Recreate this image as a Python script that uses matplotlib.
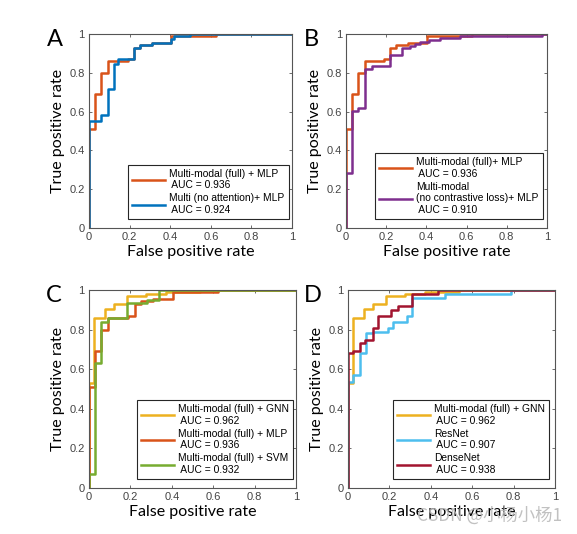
import numpy as np
import matplotlib
matplotlib.use('Agg')
import matplotlib.pyplot as plt

# ROC step curves (fpr breakpoints, tpr levels)
mlp_fpr = [0, 0, 0.03, 0.06, 0.093, 0.16, 0.19, 0.22, 0.25, 0.31, 0.405, 0.625, 1]
mlp_tpr = [0, 0.51, 0.69, 0.80, 0.86, 0.86, 0.87, 0.93, 0.945, 0.955, 0.99, 1.0, 1.0]

noatt_fpr = [0, 0, 0.06, 0.095, 0.125, 0.145, 0.22, 0.25, 0.31, 0.405, 0.42, 0.495, 1]
noatt_tpr = [0, 0.55, 0.585, 0.715, 0.845, 0.87, 0.93, 0.945, 0.955, 0.975, 0.99, 1.0, 1.0]

nocl_fpr = [0, 0, 0.028, 0.061, 0.094, 0.127, 0.22, 0.277, 0.318, 0.343, 0.367, 0.414, 0.467, 0.566, 0.977, 1]
nocl_tpr = [0, 0.285, 0.605, 0.62, 0.82, 0.835, 0.89, 0.93, 0.94, 0.95, 0.96, 0.97, 0.98, 0.99, 1.0, 1.0]

gnn_fpr = [0, 0, 0.024, 0.077, 0.12, 0.185, 0.274, 0.37, 0.534, 1]
gnn_tpr = [0, 0.53, 0.86, 0.905, 0.93, 0.97, 0.98, 0.99, 1.0, 1.0]

svm_fpr = [0, 0, 0.03, 0.056, 0.094, 0.185, 0.28, 0.34, 1]
svm_tpr = [0, 0.07, 0.632, 0.839, 0.86, 0.935, 0.95, 1.0, 1.0]

resnet_fpr = [0, 0, 0.024, 0.057, 0.089, 0.12, 0.194, 0.218, 0.283, 0.307, 0.47, 0.785, 1]
resnet_tpr = [0, 0.535, 0.57, 0.68, 0.78, 0.79, 0.81, 0.84, 0.87, 0.96, 0.98, 1.0, 1.0]

dense_fpr = [0, 0, 0.024, 0.057, 0.081, 0.12, 0.146, 0.21, 0.243, 0.307, 0.437, 1]
dense_tpr = [0, 0.68, 0.69, 0.73, 0.745, 0.81, 0.87, 0.90, 0.92, 0.98, 1.0, 1.0]

ticks = [0, 0.2, 0.4, 0.6, 0.8, 1]
tick_labels = ['0', '0.2', '0.4', '0.6', '0.8', '1']

# matlab default colours
ORANGE = '#D95319'
BLUE = '#0072BD'
YELLOW = '#EDB120'
PURPLE = '#7E2F8E'
GREEN = '#77AC30'
LBLUE = '#4DBEEE'
DRED = '#A2142F'

panels = [
    ('A', [0.1542, 0.573, 0.352, 0.363], (0.983, 0.046), [
        (mlp_fpr, mlp_tpr, ORANGE, 'Multi-modal (full) + MLP\n AUC = 0.936'),
        (noatt_fpr, noatt_tpr, BLUE, 'Multi (no attention)+ MLP\n AUC = 0.924'),
    ]),
    ('B', [0.5997, 0.573, 0.348, 0.363], (0.98, 0.047), [
        (mlp_fpr, mlp_tpr, ORANGE, 'Multi-modal (full)+ MLP\n AUC = 0.936'),
        (nocl_fpr, nocl_tpr, PURPLE, 'Multi-modal\n(no contrastive loss)+ MLP\n AUC = 0.910'),
    ]),
    ('C', [0.1542, 0.0861, 0.359, 0.371], (0.985, 0.045), [
        (gnn_fpr, gnn_tpr, YELLOW, 'Multi-modal (full) + GNN\n AUC = 0.962'),
        (mlp_fpr, mlp_tpr, ORANGE, 'Multi-modal (full) + MLP\n AUC = 0.936'),
        (svm_fpr, svm_tpr, GREEN, 'Multi-modal (full) + SVM\n AUC = 0.932'),
    ]),
    ('D', [0.603, 0.0861, 0.359, 0.371], (0.97, 0.045), [
        (gnn_fpr, gnn_tpr, YELLOW, 'Multi-modal (full) + GNN\n AUC = 0.962'),
        (resnet_fpr, resnet_tpr, LBLUE, 'ResNet\n AUC = 0.907'),
        (dense_fpr, dense_tpr, DRED, 'DenseNet\n AUC = 0.938'),
    ]),
]

fig = plt.figure(figsize=(5.77, 5.34), dpi=100)

for letter, rect, anchor, curves in panels:
    ax = fig.add_axes(rect)
    for fpr, tpr, color, label in curves:
        ax.step(fpr, tpr, where='post', color=color, lw=1.8, label=label)
    ax.set_xlim(0, 1)
    ax.set_ylim(0, 1)
    ax.set_xticks(ticks)
    ax.set_xticklabels(tick_labels)
    ax.set_yticks(ticks)
    ax.set_yticklabels(tick_labels)
    ax.tick_params(direction='in', top=True, right=True, length=2.5, width=0.6,
                   color='#555555', labelcolor='#444444', labelsize=8, pad=3)
    for lab in ax.get_xticklabels() + ax.get_yticklabels():
        lab.set_family('Liberation Sans')
    for s in ax.spines.values():
        s.set_color('#555555')
        s.set_linewidth(0.8)
    ax.set_xlabel('False positive rate', family='Lato', fontsize=11.5, labelpad=2)
    ax.set_ylabel('True positive rate', family='Lato', fontsize=11.5, labelpad=3)
    ax.text(-0.17, 0.97, letter, transform=ax.transAxes, family='Lato',
            fontsize=17, ha='center', va='center')
    leg = ax.legend(loc='lower right', bbox_to_anchor=anchor, borderaxespad=0,
                    prop={'family': 'Liberation Sans', 'size': 7.4},
                    handlelength=3.2, handletextpad=0.4, labelspacing=0.3,
                    borderpad=0.4, fancybox=False, framealpha=1)
    leg.get_frame().set_edgecolor('#262626')
    leg.get_frame().set_linewidth(0.8)

fig.text(0.975, 0.035, 'CSDN @小杨小杨1', ha='right', va='center', fontsize=12.5,
         color='#bbbbbb', alpha=0.9, family=['Noto Sans CJK SC', 'DejaVu Sans'])

fig.savefig('out.png', dpi=100)
